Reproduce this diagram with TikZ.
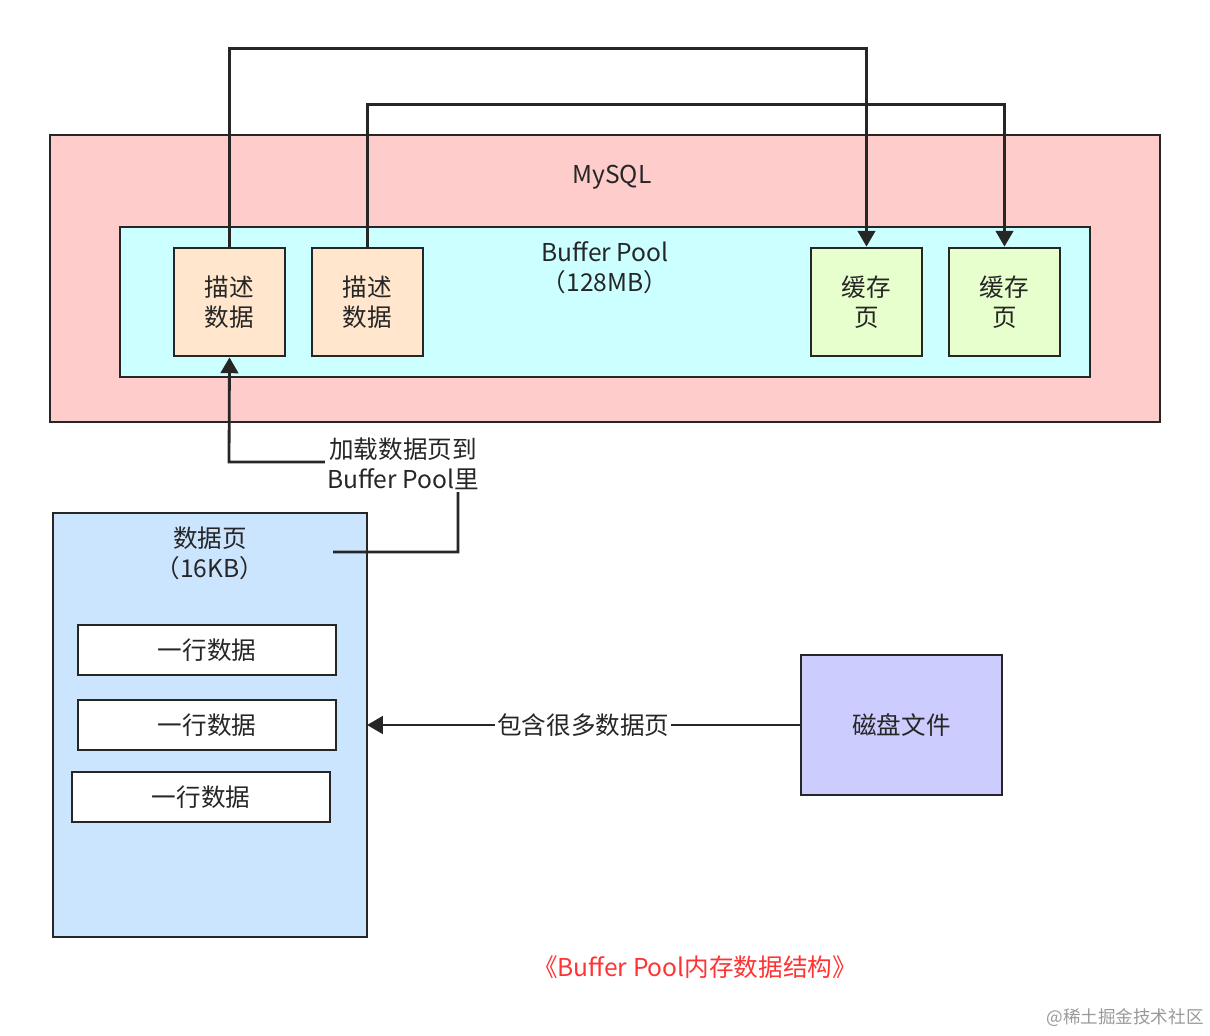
\documentclass[tikz,border=0pt]{standalone}
\usepackage{fontspec}
\setmainfont{Noto Sans CJK SC}
\usetikzlibrary{arrows.meta}
\definecolor{edge}{HTML}{262626}
\begin{document}
\begin{tikzpicture}[x=0.02cm,y=-0.02cm,
  box/.style={draw=edge,line width=1.6pt},
  lbl/.style={font=\fontsize{14}{17}\selectfont,align=center,text=black!85},
  conn/.style={draw=edge,line width=1.6pt},
  arr/.style={conn,-{Triangle[length=9pt,width=10pt]}}]
\useasboundingbox (0,0) rectangle (1210,1035);
% MySQL
\draw[box,fill={rgb,255:red,255;green,204;blue,204}] (50,135) rectangle (1160,422);
\node[lbl] (mysql) at (612,177) {MySQL};
\draw[box,fill={rgb,255:red,204;green,255;blue,255}] (120,227) rectangle (1090,377);
\node[lbl] (bp) at (605,268) {Buffer Pool\\（128MB）};
% inner boxes
\node[box,lbl,fill={rgb,255:red,255;green,230;blue,204},minimum width=111*0.02cm,minimum height=108*0.02cm] (d1) at (229.5,302) {描述\\数据};
\node[box,lbl,fill={rgb,255:red,255;green,230;blue,204},minimum width=111*0.02cm,minimum height=108*0.02cm] (d2) at (367.5,302) {描述\\数据};
\node[box,lbl,fill={rgb,255:red,230;green,255;blue,204},minimum width=111*0.02cm,minimum height=108*0.02cm] (c1) at (866.5,302) {缓存\\页};
\node[box,lbl,fill={rgb,255:red,230;green,255;blue,204},minimum width=111*0.02cm,minimum height=108*0.02cm] (c2) at (1004.5,302) {缓存\\页};
\draw[arr] (d1.north) -- ++(0,-198) -| (c1.north);
\draw[arr] (d2.north) -- ++(0,-142) -| (c2.north);
% data page
\draw[box,fill={rgb,255:red,204;green,229;blue,255}] (53,513) rectangle (367,937);
\node[lbl] (dp) at (210,553) {数据页\\（16KB）};
\node[box,lbl,fill=white,minimum width=258*0.02cm,minimum height=50*0.02cm] (r1) at (207,650) {一行数据};
\node[box,lbl,fill=white,minimum width=258*0.02cm,minimum height=50*0.02cm] (r2) at (207,725) {一行数据};
\node[box,lbl,fill=white,minimum width=258*0.02cm,minimum height=50*0.02cm] (r3) at (201,797) {一行数据};
\coordinate (dpin) at (367,725);
\coordinate (dpout) at (333,552);
% load connector
\draw[arr] (dpout) -- (458,552) -- (458,462) -- (229,462) -- (d1.south);
\node[lbl,fill=white,inner sep=1pt] (load) at (403,464) {加载数据页到\\Buffer Pool里};
% disk
\node[box,lbl,fill={rgb,255:red,204;green,204;blue,255},minimum width=201*0.02cm,minimum height=140*0.02cm] (disk) at (901.5,725) {磁盘文件};
\draw[arr] (disk.west) -- node[lbl,fill=white,inner sep=1pt] (has) {包含很多数据页} (dpin);
% caption
\node[font=\fontsize{14}{17}\selectfont,text={rgb,255:red,255;green,51;blue,51}] (cap) at (695,967) {《Buffer Pool内存数据结构》};
\node[font=\fontsize{10}{12}\selectfont,text=black!40] (wm) at (1125,1018) {@稀土掘金技术社区};
\end{tikzpicture}
\end{document}
